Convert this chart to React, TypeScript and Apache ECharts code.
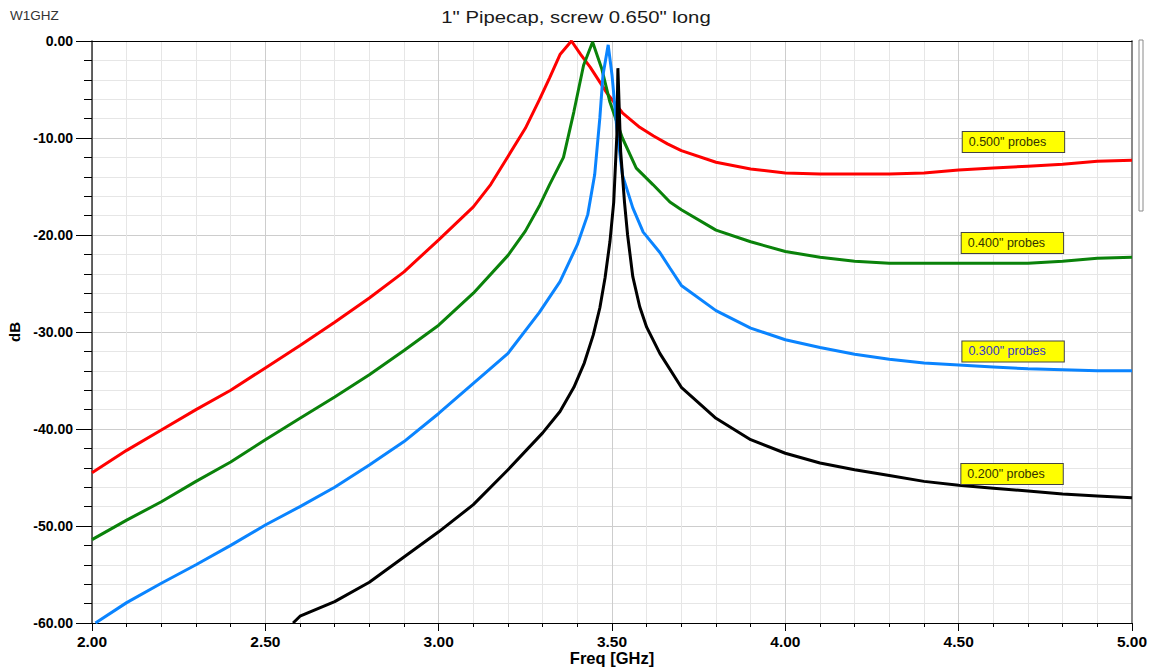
import React, { useEffect, useRef } from "react";
import * as echarts from "echarts";

// ---- Data ----
const probe500Freq = [2.0, 2.1, 2.2, 2.3, 2.4, 2.5, 2.6, 2.7, 2.8, 2.9, 3.0, 3.1, 3.15, 3.2, 3.25, 3.29, 3.32, 3.35, 3.383, 3.41, 3.437, 3.486, 3.53, 3.58, 3.62, 3.66, 3.7, 3.8, 3.9, 4.0, 4.1, 4.2, 4.3, 4.4, 4.5, 4.6, 4.7, 4.8, 4.9, 5.0];
const probe500Db = [-44.5, -42.2, -40.1, -38.0, -36.0, -33.7, -31.4, -29.0, -26.5, -23.8, -20.5, -17.1, -14.8, -11.9, -9.0, -6.1, -3.8, -1.4, 0.0, -1.4, -2.7, -5.4, -7.4, -8.9, -9.8, -10.6, -11.3, -12.5, -13.2, -13.6, -13.7, -13.7, -13.7, -13.6, -13.3, -13.1, -12.9, -12.7, -12.4, -12.3];

const probe400Freq = [2.0, 2.1, 2.2, 2.3, 2.4, 2.5, 2.6, 2.7, 2.8, 2.9, 3.0, 3.1, 3.2, 3.25, 3.292, 3.32, 3.36, 3.39, 3.418, 3.444, 3.47, 3.494, 3.53, 3.57, 3.618, 3.667, 3.7, 3.8, 3.9, 4.0, 4.1, 4.2, 4.3, 4.4, 4.5, 4.6, 4.7, 4.8, 4.9, 5.0];
const probe400Db = [-51.4, -49.4, -47.5, -45.4, -43.4, -41.1, -38.9, -36.7, -34.4, -31.9, -29.3, -26.0, -22.1, -19.6, -16.9, -14.8, -12.0, -7.3, -2.5, -0.1, -2.8, -6.3, -10.0, -13.1, -14.8, -16.6, -17.4, -19.5, -20.7, -21.7, -22.3, -22.7, -22.9, -22.9, -22.9, -22.9, -22.9, -22.7, -22.4, -22.3];

const probe300Freq = [2.01, 2.1, 2.2, 2.3, 2.4, 2.5, 2.6, 2.7, 2.8, 2.9, 3.0, 3.1, 3.2, 3.29, 3.35, 3.4, 3.43, 3.45, 3.465, 3.474, 3.489, 3.5, 3.514, 3.53, 3.56, 3.59, 3.638, 3.667, 3.7, 3.8, 3.9, 4.0, 4.1, 4.2, 4.3, 4.4, 4.5, 4.6, 4.7, 4.8, 4.9, 5.0];
const probe300Db = [-60.0, -57.9, -55.9, -54.0, -52.0, -49.9, -48.0, -46.0, -43.7, -41.3, -38.4, -35.3, -32.2, -28.0, -24.8, -21.0, -17.9, -13.8, -7.9, -3.5, -0.4, -3.5, -9.0, -13.8, -17.2, -19.7, -21.8, -23.4, -25.2, -27.8, -29.6, -30.8, -31.6, -32.3, -32.8, -33.2, -33.4, -33.6, -33.8, -33.9, -34.0, -34.0];

const probe200Freq = [2.58, 2.6, 2.7, 2.8, 2.9, 3.0, 3.1, 3.2, 3.3, 3.35, 3.39, 3.42, 3.446, 3.465, 3.48, 3.494, 3.505, 3.514, 3.517, 3.525, 3.536, 3.545, 3.56, 3.58, 3.6, 3.638, 3.7, 3.8, 3.9, 4.0, 4.1, 4.2, 4.3, 4.4, 4.5, 4.6, 4.7, 4.8, 4.9, 5.0];
const probe200Db = [-60.0, -59.3, -57.8, -55.8, -53.2, -50.6, -47.8, -44.2, -40.4, -38.2, -35.7, -33.2, -30.3, -27.5, -24.4, -20.7, -16.6, -9.7, -2.8, -11.4, -16.6, -20.0, -24.3, -27.4, -29.5, -32.2, -35.7, -38.9, -41.1, -42.5, -43.5, -44.2, -44.8, -45.4, -45.8, -46.1, -46.4, -46.7, -46.9, -47.1];

const seriesNames = ['0.500" probes', '0.400" probes', '0.300" probes', '0.200" probes'];
const seriesColors = ["#ff0000", "#0a820a", "#0a84ff", "#000000"];
const labelTextColors = ["#333300", "#333300", "#3434c8", "#333300"];
// annotation anchor (box centre) in data units: [freq, dB]
const labelFreq = [4.658, 4.655, 4.657, 4.654];
const labelDb = [-10.41, -20.82, -32.01, -44.64];

const xTicks = { min: 2, max: 5, interval: 0.5 };
const yTicks = { min: -60, max: 0, interval: 10 };

const freqs = [probe500Freq, probe400Freq, probe300Freq, probe200Freq];
const dbs = [probe500Db, probe400Db, probe300Db, probe200Db];

const SANS = "Arial, 'Liberation Sans', sans-serif";

export default function App() {
  const ref = useRef<HTMLDivElement>(null);

  useEffect(() => {
    if (!ref.current) return;
    const chart = echarts.init(ref.current, undefined, { renderer: "svg" });

    const series: any[] = seriesNames.map((name, i) => ({
      name,
      type: "line",
      xAxisIndex: 0,
      yAxisIndex: 0,
      showSymbol: false,
      symbol: "none",
      smooth: false,
      clip: true,
      lineStyle: { color: seriesColors[i], width: 3 },
      itemStyle: { color: seriesColors[i] },
      data: freqs[i].map((f, k) => [f, dbs[i][k]]),
      markPoint: {
        silent: true,
        symbol: "rect",
        symbolSize: 1,
        itemStyle: { color: "rgba(0,0,0,0)" },
        data: [{ coord: [labelFreq[i], labelDb[i]], value: name }],
        label: {
          show: true,
          position: "inside",
          formatter: name,
          fontFamily: SANS,
          fontSize: 12.5,
          color: labelTextColors[i],
          backgroundColor: "#ffff00",
          borderColor: "#444444",
          borderWidth: 1,
          padding: [4, 18, 3, 6],
        },
      },
    }));

    chart.setOption({
      animation: false,
      backgroundColor: "#ffffff",
      graphic: [
        {
          type: "text",
          x: 576,
          y: 17,
          scaleX: 1.27,
          style: {
            text: '1" Pipecap, screw 0.650" long',
            fontFamily: SANS,
            fontSize: 16,
            fill: "#1a1a1a",
            align: "center",
            verticalAlign: "middle",
          },
        },
        {
          type: "text",
          x: 10,
          y: 15,
          style: { text: "W1GHZ", fontFamily: SANS, fontSize: 13.5, fill: "#333333", verticalAlign: "middle" },
        },
        {
          type: "rect",
          shape: { x: 1139, y: 40, width: 4, height: 171 },
          style: { fill: "#ffffff", stroke: "#8a8a8a", lineWidth: 1 },
        },
      ],
      grid: { left: 92, top: 41, right: 19, bottom: 45, containLabel: false, outerBoundsMode: "none" },
      xAxis: [
        {
          type: "value",
          min: xTicks.min,
          max: xTicks.max,
          interval: xTicks.interval,
          position: "bottom",
          name: "Freq [GHz]",
          nameLocation: "middle",
          nameGap: 27,
          nameMoveOverlap: false,
          nameTextStyle: { fontFamily: SANS, fontSize: 16.5, lineHeight: 16, fontWeight: "bold", color: "#000" },
          axisLine: { show: true, onZero: false, lineStyle: { color: "#000", width: 1 } },
          axisTick: { show: true, length: 8, lineStyle: { color: "#000" } },
          minorTick: { show: true, splitNumber: 5, length: 4, lineStyle: { color: "#000" } },
          axisLabel: {
            formatter: (v: number) => v.toFixed(2),
            fontFamily: SANS,
            fontWeight: "bold",
            fontSize: 15.5,
            lineHeight: 14,
            color: "#000",
            margin: 11,
          },
          splitLine: { show: true, lineStyle: { color: "#cdcdcd", width: 1 } },
          minorSplitLine: { show: true, lineStyle: { color: "#e6e6e6", width: 1 } },
        },
        {
          type: "value",
          min: xTicks.min,
          max: xTicks.max,
          interval: xTicks.interval,
          position: "top",
          axisLine: { show: true, onZero: false, lineStyle: { color: "#000", width: 1 } },
          axisTick: { show: false },
          axisLabel: { show: false },
          splitLine: { show: false },
        },
      ],
      yAxis: [
        {
          type: "value",
          min: yTicks.min,
          max: yTicks.max,
          interval: yTicks.interval,
          position: "left",
          name: "dB",
          nameLocation: "middle",
          nameGap: 68,
          nameRotate: 90,
          nameTextStyle: { fontFamily: SANS, fontSize: 15, fontWeight: "bold", color: "#000" },
          axisLine: { show: true, onZero: false, lineStyle: { color: "#333", width: 1.5 } },
          axisTick: { show: true, length: 16, lineStyle: { color: "#000" } },
          minorTick: { show: true, splitNumber: 5, length: 8, lineStyle: { color: "#000" } },
          axisLabel: {
            formatter: (v: number) => v.toFixed(2),
            fontFamily: SANS,
            fontWeight: "bold",
            fontSize: 14,
            color: "#000",
            margin: 19,
          },
          splitLine: { show: true, lineStyle: { color: "#cdcdcd", width: 1 } },
          minorSplitLine: { show: true, lineStyle: { color: "#e6e6e6", width: 1 } },
        },
        {
          type: "value",
          min: yTicks.min,
          max: yTicks.max,
          interval: yTicks.interval,
          position: "right",
          axisLine: { show: true, onZero: false, lineStyle: { color: "#8a8a8a", width: 2 } },
          axisTick: { show: false },
          axisLabel: { show: false },
          splitLine: { show: false },
        },
      ],
      series,
    });

    return () => chart.dispose();
  }, []);

  return (
    <div
      ref={ref}
      style={{ position: "absolute", left: 0, top: 0, width: 1151, height: 668, background: "#fff" }}
    />
  );
}
